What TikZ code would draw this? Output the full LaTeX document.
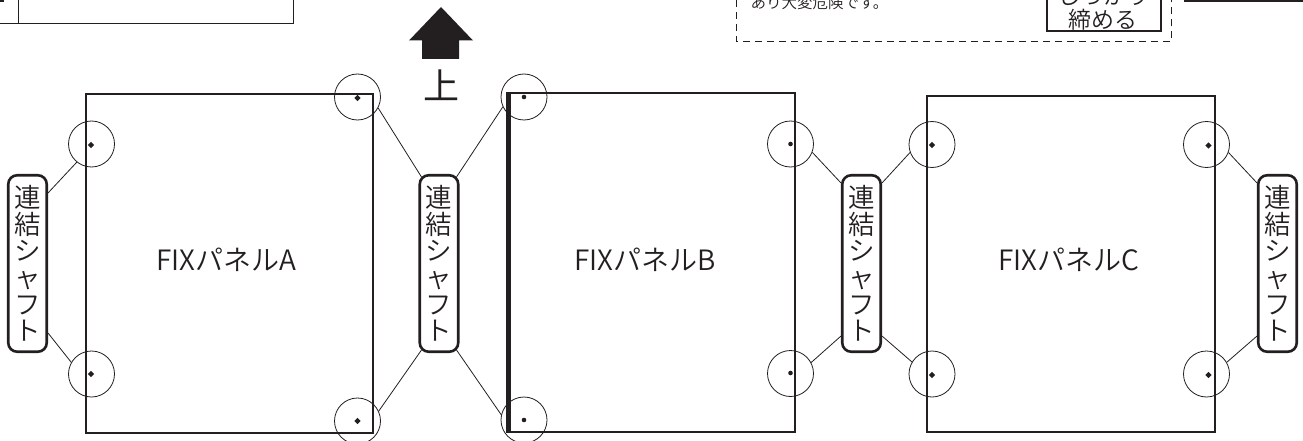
\documentclass[tikz,border=0pt]{standalone}
\usepackage{fontspec}
\usetikzlibrary{shapes.geometric}
\newfontfamily\lightf{Noto Sans CJK JP DemiLight}
\newfontfamily\regf{Noto Sans CJK JP}
\definecolor{ink}{HTML}{231F20}
\tikzset{x=1pt,y=-1pt,
 outline/.style={draw=ink,line width=2pt},
 ring/.style={draw=ink,line width=.8pt,circle,minimum size=46pt,inner sep=0pt},
 pin/.style={fill=ink,diamond,inner sep=0pt,minimum size=6.5pt},
 rpin/.style={fill=ink,circle,inner sep=0pt,minimum size=4.6pt},
 shaft/.style={draw=ink,line width=2.6pt,rounded corners=9pt,minimum width=38.5pt,minimum height=176.5pt,inner sep=0pt,align=center,text=ink,font=\lightf\fontsize{26.5}{26.6}\selectfont},
 link/.style={draw=ink,line width=.8pt},
 plabel/.style={font=\lightf\fontsize{28}{28}\selectfont,text=ink},
}
\newcommand{\shafttext}{連\\結\\シ\\ャ\\フ\\ト}
\begin{document}
\begin{tikzpicture}
\useasboundingbox (0,0) rectangle (1303,441);
\clip (0,0) rectangle (1303,441);
% cropped remains at the top edge
\coordinate (tA) at (0,23.7); \coordinate (tB) at (293.7,23.7); \coordinate (tC) at (293.7,0);
\coordinate (tD) at (18.3,0); \coordinate (tE) at (18.3,23.7);
\draw[draw=ink,line width=1.1pt] (tA) -- (tB) -- (tC) (tD) -- (tE);
\fill[ink] (0,0) rectangle (4,2);
\draw[draw=ink,line width=.9pt,dash pattern=on 7pt off 5pt] (736.7,0) -- (736.7,41.7) -- (1171.7,41.7) -- (1171.7,0);
\node[text=ink,font=\lightf\fontsize{15.5}{15.5}\selectfont,anchor=west] (warn) at (747,2.5) {あり大変危険です。};
\draw[draw=ink,line width=2pt] (1047,-5) rectangle (1161,31.5);
\node[text=ink,font=\lightf\fontsize{23}{23}\selectfont] (tight2) at (1103,19.5) {締める};
\node[text=ink,font=\lightf\fontsize{23}{23}\selectfont] (tight1) at (1103,-4) {しっかり};
\fill[ink] (1184,0) rectangle (1303,1.8);
% up arrow
\fill[ink] (441,7) -- (473,40.5) -- (459,40.5) -- (459,59) -- (422,59) -- (422,40.5) -- (409,40.5) -- cycle;
\node[text=ink,font=\regf\fontsize{36}{36}\selectfont] (up) at (441.5,85.5) {上};
% panels
\node[outline,draw,minimum width=287pt,minimum height=338.5pt,inner sep=0pt] (A) at (229.7,263.3) {};
\node[outline,draw,minimum width=287pt,minimum height=339pt,inner sep=0pt] (B) at (651,262.5) {};
\node[outline,draw,minimum width=287.5pt,minimum height=336pt,inner sep=0pt] (C) at (1070.75,264) {};
\fill[ink] (B.north west) ++(-1pt,0) rectangle ([xshift=4pt]B.south west);
\node[plabel] at (226,259.5) {FIXパネルA};
\node[plabel] at (645,259.5) {FIXパネルB};
\node[plabel] at (1068.5,259.5) {FIXパネルC};
% rings
\node[ring] (a1) at (91.5,144) {}; \node[pin] at (91,145) {};
\node[ring] (a2) at (91.5,374) {}; \node[pin] at (91,374) {};
\node[ring] (a3) at (357.5,97) {}; \node[pin] at (357.5,98) {};
\node[ring] (a4) at (357.5,421) {}; \node[pin] at (357.5,421) {};
\node[ring] (b1) at (524,97) {}; \node[rpin] at (524,97) {};
\node[ring] (b2) at (524,420) {}; \node[rpin] at (524,420) {};
\node[ring] (b3) at (790.5,144) {}; \node[rpin] at (790.5,144) {};
\node[ring] (b4) at (790.5,373.5) {}; \node[rpin] at (790.5,373) {};
\node[ring] (c1) at (932,144.5) {}; \node[pin] at (932,145) {};
\node[ring] (c2) at (932,374) {}; \node[pin] at (932,375) {};
\node[ring] (c3) at (1206.5,144.5) {}; \node[pin] at (1208.5,145.5) {};
\node[ring] (c4) at (1206.5,374) {}; \node[pin] at (1208.5,375) {};
% shafts
\node[shaft] (s1) at (27.5,263.5) {\shafttext};
\node[shaft] (s2) at (439,263.5) {\shafttext};
\node[shaft] (s3) at (861.5,263.5) {\shafttext};
\node[shaft] (s4) at (1277.5,263.5) {\shafttext};
% links
\draw[link] (a1.231) -- ([yshift=-19pt]s1.north east);
\draw[link] (a2.150) -- ([yshift=20pt]s1.south east);
\draw[link] (a3.-28) -- ([shift={(3pt,-3pt)}]s2.north west);
\draw[link] (a4.25) -- ([shift={(3pt,3pt)}]s2.south west);
\draw[link] (b1.205) -- ([shift={(-3pt,-3pt)}]s2.north east);
\draw[link] (b2.167) -- ([shift={(-3pt,3pt)}]s2.south east);
\draw[link] (b3.-21) -- ([yshift=-9pt]s3.north west);
\draw[link] (b4.28) -- ([yshift=17pt]s3.south west);
\draw[link] (c1.200) -- ([yshift=-9pt]s3.north east);
\draw[link] (c2.149) -- ([yshift=17pt]s3.south east);
\draw[link] (c3.-20) -- ([yshift=-9pt]s4.north west);
\draw[link] (c4.30) -- ([yshift=17pt]s4.south west);
\end{tikzpicture}
\end{document}
